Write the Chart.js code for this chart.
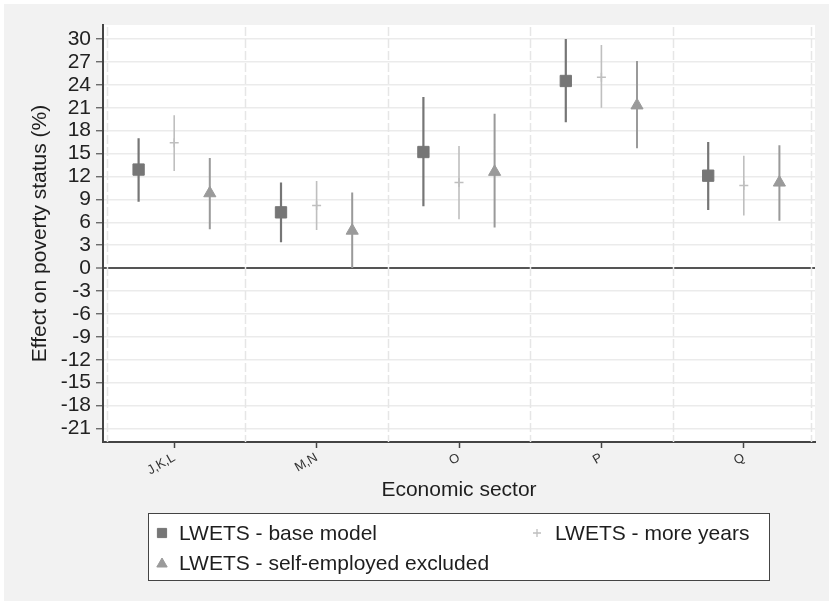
<!DOCTYPE html>
<html><head><meta charset="utf-8">
<script src="https://cdn.jsdelivr.net/npm/chart.js@4.4.1/dist/chart.umd.min.js"></script>
<style>html,body{margin:0;padding:0;background:#f2f2f2;overflow:hidden}canvas{display:block}</style>
</head><body>
<canvas id="c" width="829" height="601"></canvas>
<script>
const categories = ['J,K,L', 'M,N', 'O', 'P', 'Q'];
const yTicks = [30, 27, 24, 21, 18, 15, 12, 9, 6, 3, 0, -3, -6, -9, -12, -15, -18, -21];
const separators = [0.53, 1.5, 2.5, 3.5, 4.5, 5.47];
const seriesNames = ['LWETS - base model', 'LWETS - more years', 'LWETS - self-employed excluded'];

const baseEst = [12.9, 7.3, 15.2, 24.5, 12.1];
const baseLo  = [8.7, 3.4, 8.1, 19.1, 7.6];
const baseHi  = [17.0, 11.2, 22.4, 30.0, 16.5];

const moreEst = [16.4, 8.2, 11.2, 25.0, 10.8];
const moreLo  = [12.7, 5.0, 6.4, 21.0, 6.9];
const moreHi  = [20.0, 11.4, 16.0, 29.2, 14.7];

const selfEst = [9.8, 4.9, 12.6, 21.3, 11.2];
const selfLo  = [5.1, 0.0, 5.3, 15.7, 6.2];
const selfHi  = [14.4, 9.9, 20.2, 27.1, 16.1];

const offsets = [-0.25, 0, 0.25];
const FONT = "'Liberation Sans', Arial, Helvetica, sans-serif";

function ciData(lo, hi, off) {
  const d = [];
  categories.forEach((c, i) => {
    const x = i + 1 + off;
    d.push({x: x, y: lo[i]}, {x: x, y: hi[i]}, {x: x, y: null});
  });
  return d;
}
function ptData(est, off) {
  return categories.map((c, i) => ({x: i + 1 + off, y: est[i]}));
}

const styles = [
  {color: '#767676', ciWidth: 2.2, pointStyle: 'rect', radius: 8, bw: 1},
  {color: '#bfbfbf', ciWidth: 1.6, pointStyle: 'cross', radius: 4.5, bw: 1.5},
  {color: '#9a9a9a', ciWidth: 2, pointStyle: 'triangle', radius: 7, bw: 1}
];
const ests = [baseEst, moreEst, selfEst];
const los = [baseLo, moreLo, selfLo];
const his = [baseHi, moreHi, selfHi];

const datasets = [];
ests.forEach((est, k) => {
  const s = styles[k];
  datasets.push({
    label: seriesNames[k] + ' CI',
    data: ciData(los[k], his[k], offsets[k]),
    showLine: true, spanGaps: false,
    borderColor: s.color, borderWidth: s.ciWidth,
    pointRadius: 0, order: 2
  });
  datasets.push({
    label: seriesNames[k],
    data: ptData(est, offsets[k]),
    showLine: false,
    pointStyle: s.pointStyle, pointRadius: s.radius,
    backgroundColor: s.color, borderColor: s.color, pointBorderWidth: s.bw,
    order: 1
  });
});

const bgPlugin = {
  id: 'bg',
  beforeDraw(chart) {
    const {ctx, chartArea: a} = chart;
    ctx.save();
    ctx.fillStyle = '#ffffff';
    ctx.fillRect(0, 0, chart.width, chart.height);
    ctx.fillStyle = '#f2f2f2';
    ctx.fillRect(4, 4, chart.width - 4, chart.height - 4);
    ctx.fillStyle = '#ffffff';
    ctx.fillRect(a.left, a.top, a.right - a.left, a.bottom - a.top);
    ctx.restore();
  },
  beforeDatasetsDraw(chart) {
    const {ctx, chartArea: a, scales: {x}} = chart;
    ctx.save();
    ctx.strokeStyle = '#e6e6e6';
    ctx.lineWidth = 1.5;
    ctx.setLineDash([9, 3]);
    separators.forEach(v => {
      const px = Math.round(x.getPixelForValue(v)) + 0.5;
      ctx.beginPath();
      ctx.moveTo(px, a.top + 2);
      ctx.lineTo(px, a.bottom);
      ctx.stroke();
    });
    ctx.restore();
  }
};

const legendPlugin = {
  id: 'boxLegend',
  afterDraw(chart) {
    const ctx = chart.ctx;
    ctx.save();
    ctx.fillStyle = '#ffffff';
    ctx.fillRect(148, 513, 622, 68);
    ctx.strokeStyle = '#444';
    ctx.lineWidth = 1;
    ctx.strokeRect(148.5, 513.5, 621, 67);
    const items = [
      {k: 0, mx: 162, tx: 179, y: 533},
      {k: 1, mx: 537, tx: 555, y: 533},
      {k: 2, mx: 162, tx: 179, y: 563}
    ];
    const legendRadius = [6.5, 4, 6];
    items.forEach(it => {
      const s = styles[it.k];
      ctx.fillStyle = s.color;
      ctx.strokeStyle = s.color;
      ctx.lineWidth = s.pointStyle === 'cross' ? 1.3 : 1;
      Chart.helpers.drawPoint(ctx, {pointStyle: s.pointStyle, radius: legendRadius[it.k], borderWidth: ctx.lineWidth, rotation: 0}, it.mx, it.y + (s.pointStyle === 'triangle' ? 1 : 0));
      ctx.fillStyle = '#1e1e1e';
      ctx.font = '21px ' + FONT;
      ctx.textBaseline = 'middle';
      ctx.textAlign = 'left';
      ctx.fillText(seriesNames[it.k], it.tx, it.y + 1);
    });
    ctx.restore();
  }
};

new Chart(document.getElementById('c'), {
  type: 'scatter',
  data: {datasets},
  plugins: [bgPlugin, legendPlugin],
  options: {
    responsive: false,
    animation: false,
    devicePixelRatio: 1,
    layout: {padding: {left: 0, right: 14, top: 25, bottom: 0}},
    plugins: {legend: {display: false}, tooltip: {enabled: false}},
    scales: {
      x: {
        type: 'linear', min: 0.5, max: 5.5,
        afterFit(scale) { scale.height = 159; },
        afterBuildTicks(scale) { scale.ticks = categories.map((c, i) => ({value: i + 1})); },
        ticks: {
          autoSkip: false, minRotation: 30, maxRotation: 30, padding: 2,
          color: '#333', font: {family: FONT, size: 13},
          callback: (v) => categories[Math.round(v) - 1] || ''
        },
        grid: {drawOnChartArea: false, drawTicks: true, tickLength: 6, tickColor: '#444', tickWidth: 1.5},
        border: {display: true, color: '#444', width: 2},
        title: {display: true, text: 'Economic sector', color: '#1e1e1e', font: {family: FONT, size: 21}, padding: {top: 0, bottom: 98}}
      },
      y: {
        type: 'linear', min: -22.77, max: 31.83,
        afterFit(scale) { scale.width = 103; },
        afterBuildTicks(scale) { scale.ticks = yTicks.map(v => ({value: v})); },
        ticks: {autoSkip: false, color: '#222', font: {family: FONT, size: 21}, padding: 5},
        grid: {
          color: (c) => (c.tick && c.tick.value === 0) ? '#555555' : '#ebebeb',
          lineWidth: (c) => (c.tick && c.tick.value === 0) ? 2 : 1.5,
          drawTicks: true, tickLength: 7, tickColor: '#555', tickWidth: 1.2
        },
        border: {display: true, color: '#444', width: 2},
        title: {display: true, text: 'Effect on poverty status (%)', color: '#1e1e1e', font: {family: FONT, size: 21}, padding: {top: 28, bottom: 0}}
      }
    }
  }
});
</script>
</body></html>
